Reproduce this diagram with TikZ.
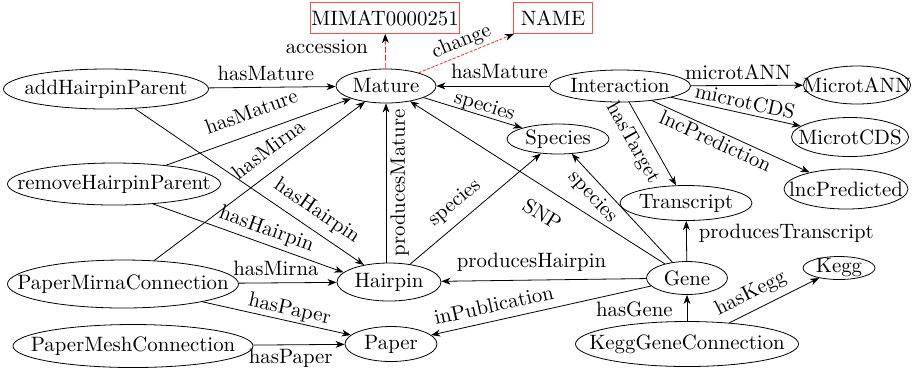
\documentclass[tikz,border=0pt]{standalone}
\usetikzlibrary{arrows.meta,shapes.geometric}
\newcommand{\zb}[1]{\makebox[0pt]{#1}}
\begin{document}
\begin{tikzpicture}[x=0.5pt,y=-0.5pt,
  every node/.style={font=\fontsize{10.4}{12}\selectfont},
  ell/.style={ellipse,draw,inner sep=0pt},
  rbox/.style={rectangle,draw=red!70,inner sep=0pt},
  sz/.style 2 args={minimum width=#1*0.5pt,minimum height=#2*0.5pt},
  arr/.style={-{Stealth[length=4.5pt,width=3.4pt,inset=1.3pt]}},
  rarr/.style={draw=red!85,-{Stealth[length=4.5pt,width=3.4pt,inset=1.3pt,black]}},
  lab/.style={inner sep=0pt}]
\useasboundingbox (0,0) rectangle (914,372);
% nodes
\node[ell,sz={205}{40}] (addHP) at (106,89) {\zb{addHairpinParent}};
\node[ell,sz={213}{42}] (remHP) at (114,184) {\zb{removeHairpinParent}};
\node[ell,sz={231}{48}] (PMC) at (123,284) {\zb{PaperMirnaConnection}};
\node[ell,sz={240}{43}] (PMeC) at (133,346) {\zb{PaperMeshConnection}};
\node[ell,sz={100}{34}] (Mature) at (386,86) {\zb{Mature}};
\node[ell,sz={104}{38}] (Hairpin) at (389,282) {\zb{Hairpin}};
\node[ell,sz={92}{35}] (Paper) at (391,344) {\zb{Paper}};
\node[ell,sz={102}{30}] (Species) at (558,139) {\zb{Species}};
\node[ell,sz={141}{32}] (Inter) at (620,86) {\zb{Interaction}};
\node[ell,sz={107}{38}] (MANN) at (857,85) {\zb{MicrotANN}};
\node[ell,sz={117}{39}] (MCDS) at (850,137) {\zb{MicrotCDS}};
\node[ell,sz={124}{40}] (lnc) at (846,189) {\zb{lncPredicted}};
\node[ell,sz={132}{35}] (Trans) at (686,203) {\zb{Transcript}};
\node[ell,sz={81}{33}] (Gene) at (687,278) {\zb{Gene}};
\node[ell,sz={72}{23},inner ysep=-1.2pt] (Kegg) at (839,268) {\zb{Kegg}};
\node[ell,sz={223}{45}] (KGC) at (687,344) {\zb{KeggGeneConnection}};
\node[rbox,sz={149}{31}] (MIMAT) at (385,18) {MIMAT0000251};
\node[rbox,sz={79}{31}] (NAME) at (553,18) {NAME};
% red edges
\draw[rarr,dash pattern=on 3pt off 1pt] (Mature) -- node[lab,left=8.5pt,pos=0.62] {accession} (MIMAT);
\draw[rarr,dash pattern=on 1.5pt off 0.8pt] (Mature) -- node[lab,above=1.4pt,sloped,pos=0.5] {change} (NAME);
% edges to Mature
\draw[arr] (addHP) -- node[lab,above=3pt,pos=0.45] {hasMature} (Mature);
\draw[arr] (remHP) -- node[lab,above=7pt,sloped,pos=0.5] {hasMature} (Mature);
\draw[arr] (PMC) -- node[lab,above=6.5pt,sloped,pos=0.6] {hasMirna} (Mature);
\draw[arr] (Hairpin.north -| Mature.south) -- node[lab,below=2pt,sloped,allow upside down,pos=0.5] {producesMature} (Mature.south);
\draw[arr] (Gene) -- node[lab,below=8pt,sloped,pos=0.43] {SNP} (Mature);
\draw[arr] (Inter) -- node[lab,above=3.4pt,pos=0.44] {hasMature} (Mature);
% edges to Hairpin
\draw[arr] (addHP) -- node[lab,above=4pt,sloped,pos=0.75] {hasHairpin} (Hairpin);
\draw[arr] (remHP.-27) -- node[lab,above=2.2pt,sloped,pos=0.57] {hasHairpin} (Hairpin.168);
\draw[arr] (PMC) -- node[lab,above=3.4pt,pos=0.38] {hasMirna} (Hairpin);
\draw[arr] (Gene) -- node[lab,above=4.3pt,pos=0.56] {producesHairpin} (Hairpin);
% edges to Paper
\draw[arr] (PMC) -- node[lab,above=0.9pt,sloped,pos=0.57] {hasPaper} (Paper);
\draw[arr] (PMeC) -- node[lab,below=1.8pt,pos=0.41] {hasPaper} (Paper);
\draw[arr] (Gene) -- node[lab,above=4.1pt,sloped,pos=0.7] {inPublication} (Paper);
% species
\draw[arr] (Mature) -- node[lab,above=0pt,sloped,pos=0.59] {species} (Species);
\draw[arr] (Hairpin) -- node[lab,above=4.2pt,sloped,pos=0.43] {species} (Species);
\draw[arr] (Gene) -- node[lab,below=2.6pt,sloped,pos=0.69] {species} (Species);
% interaction
\draw[arr] (Inter) -- node[lab,above=2.6pt,pos=0.42] {microtANN} (MANN);
\draw[arr] (Inter) -- node[lab,above=2.1pt,sloped,pos=0.55] {microtCDS} (MCDS);
\draw[arr] (Inter) -- node[lab,below=1.2pt,sloped,pos=0.43] {lncPrediction} (lnc);
\draw[arr] (Inter) -- node[lab,below=3.7pt,sloped,pos=0.39] {hasTarget} (Trans);
% gene
\draw[arr] (Gene) -- node[lab,right=6pt,pos=0.68] {producesTranscript} (Trans);
\draw[arr] (KGC) -- node[lab,left=7pt,pos=0.46] {hasGene} (Gene);
\draw[arr] (KGC) -- node[lab,above=3.4pt,sloped,pos=0.32] {hasKegg} (Kegg);
\end{tikzpicture}
\end{document}
